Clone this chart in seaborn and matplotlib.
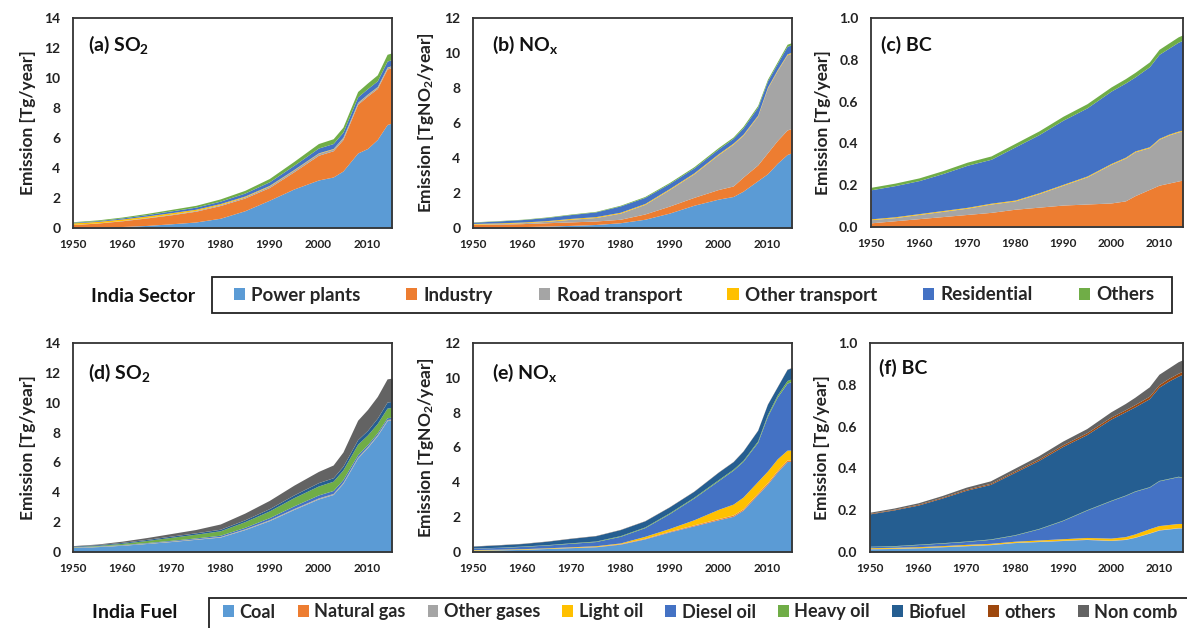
import numpy as np
import pandas as pd
import matplotlib
matplotlib.use("Agg")
import matplotlib.pyplot as plt
import seaborn as sns
from matplotlib.patches import Rectangle, Patch
from matplotlib.ticker import MultipleLocator, FormatStrFormatter

# ---------------- data ----------------
years = [1950, 1955, 1960, 1965, 1970, 1975, 1980, 1985, 1990, 1995,
         2000, 2003, 2005, 2008, 2010, 2012, 2014, 2015]

sector_names = ["Power plants", "Industry", "Road transport",
                "Other transport", "Residential", "Others"]
fuel_names = ["Coal", "Natural gas", "Other gases", "Light oil", "Diesel oil",
              "Heavy oil", "Biofuel", "others", "Non comb"]

# (a) SO2 by sector
so2_power = [0.03, 0.06, 0.10, 0.17, 0.28, 0.40, 0.65, 1.15, 1.85, 2.60, 3.20, 3.40, 3.80, 5.00, 5.30, 5.90, 6.90, 7.00]
so2_industry = [0.20, 0.27, 0.38, 0.50, 0.60, 0.72, 0.85, 0.85, 0.85, 1.15, 1.65, 1.75, 2.10, 3.25, 3.50, 3.40, 3.70, 3.70]
so2_road = [0.01, 0.01, 0.02, 0.03, 0.04, 0.05, 0.06, 0.08, 0.10, 0.12, 0.13, 0.12, 0.12, 0.10, 0.10, 0.10, 0.10, 0.10]
so2_othtr = [0.10, 0.10, 0.10, 0.10, 0.10, 0.08, 0.07, 0.05, 0.04, 0.03, 0.03, 0.03, 0.03, 0.03, 0.03, 0.03, 0.03, 0.03]
so2_resid = [0.04, 0.05, 0.07, 0.09, 0.12, 0.14, 0.16, 0.20, 0.24, 0.28, 0.32, 0.33, 0.34, 0.36, 0.36, 0.38, 0.40, 0.40]
so2_others = [0.04, 0.05, 0.06, 0.08, 0.10, 0.12, 0.15, 0.18, 0.22, 0.26, 0.30, 0.32, 0.33, 0.36, 0.38, 0.40, 0.45, 0.45]

# (b) NOx by sector
nox_power = [0.05, 0.06, 0.08, 0.11, 0.15, 0.20, 0.30, 0.50, 0.85, 1.30, 1.65, 1.80, 2.10, 2.70, 3.10, 3.70, 4.20, 4.30]
nox_industry = [0.15, 0.16, 0.17, 0.19, 0.20, 0.20, 0.20, 0.30, 0.40, 0.45, 0.55, 0.60, 0.80, 0.90, 1.20, 1.30, 1.40, 1.40]
nox_road = [0.02, 0.03, 0.05, 0.08, 0.15, 0.20, 0.35, 0.55, 0.95, 1.35, 2.00, 2.40, 2.40, 2.80, 3.70, 4.00, 4.30, 4.30]
nox_othtr = [0.04, 0.04, 0.04, 0.04, 0.05, 0.05, 0.05, 0.05, 0.05, 0.05, 0.05, 0.05, 0.05, 0.05, 0.05, 0.05, 0.05, 0.05]
nox_resid = [0.07, 0.11, 0.14, 0.18, 0.22, 0.27, 0.36, 0.35, 0.29, 0.28, 0.27, 0.27, 0.36, 0.45, 0.35, 0.35, 0.43, 0.43]
nox_others = [0.02, 0.02, 0.02, 0.03, 0.03, 0.03, 0.04, 0.05, 0.06, 0.07, 0.08, 0.08, 0.09, 0.10, 0.10, 0.10, 0.12, 0.12]

# (c) BC by sector
bc_power = [0.002, 0.002, 0.002, 0.002, 0.003, 0.003, 0.003, 0.004, 0.004, 0.005, 0.005, 0.005, 0.005, 0.006, 0.006, 0.006, 0.006, 0.006]
bc_industry = [0.018, 0.028, 0.038, 0.048, 0.057, 0.067, 0.082, 0.091, 0.101, 0.105, 0.110, 0.120, 0.145, 0.174, 0.194, 0.204, 0.214, 0.219]
bc_road = [0.015, 0.015, 0.020, 0.025, 0.030, 0.040, 0.040, 0.065, 0.095, 0.130, 0.185, 0.205, 0.210, 0.200, 0.220, 0.230, 0.235, 0.235]
bc_othtr = [0.004] * 18
bc_resid = [0.139, 0.149, 0.158, 0.177, 0.201, 0.210, 0.254, 0.278, 0.307, 0.326, 0.346, 0.355, 0.354, 0.383, 0.402, 0.411, 0.425, 0.430]
bc_others = [0.012, 0.012, 0.013, 0.014, 0.015, 0.016, 0.017, 0.018, 0.019, 0.020, 0.020, 0.021, 0.022, 0.023, 0.024, 0.025, 0.026, 0.026]

# (d) SO2 by fuel
so2f_coal = [0.30, 0.36, 0.45, 0.57, 0.70, 0.85, 1.00, 1.50, 2.10, 2.85, 3.55, 3.85, 4.60, 6.30, 7.00, 7.80, 8.80, 8.85]
so2f_gas = [0.002] * 18
so2f_othgas = [0.01, 0.01, 0.01, 0.01, 0.02, 0.02, 0.03, 0.04, 0.05, 0.05, 0.06, 0.06, 0.06, 0.06, 0.06, 0.06, 0.06, 0.06]
so2f_light = [0.01] * 18
so2f_diesel = [0.02, 0.02, 0.03, 0.04, 0.05, 0.06, 0.08, 0.10, 0.14, 0.18, 0.20, 0.20, 0.18, 0.15, 0.12, 0.12, 0.12, 0.12]
so2f_heavy = [0.02, 0.04, 0.08, 0.14, 0.20, 0.25, 0.30, 0.38, 0.45, 0.55, 0.60, 0.62, 0.65, 0.70, 0.65, 0.62, 0.65, 0.65]
so2f_bio = [0.04, 0.05, 0.06, 0.07, 0.08, 0.09, 0.10, 0.12, 0.15, 0.18, 0.22, 0.23, 0.24, 0.30, 0.30, 0.35, 0.40, 0.40]
so2f_others = [0.005] * 18
so2f_noncomb = [0.02, 0.04, 0.08, 0.12, 0.17, 0.22, 0.35, 0.45, 0.55, 0.65, 0.75, 0.85, 0.95, 1.30, 1.40, 1.45, 1.55, 1.55]

# (e) NOx by fuel
noxf_coal = [0.10, 0.12, 0.15, 0.20, 0.25, 0.30, 0.45, 0.75, 1.15, 1.50, 1.85, 2.05, 2.40, 3.30, 3.90, 4.60, 5.20, 5.20]
noxf_gas = [0.00, 0.00, 0.00, 0.00, 0.01, 0.01, 0.02, 0.03, 0.04, 0.05, 0.06, 0.07, 0.07, 0.08, 0.08, 0.08, 0.08, 0.08]
noxf_othgas = [0.01] * 18
noxf_light = [0.03, 0.03, 0.03, 0.03, 0.03, 0.04, 0.04, 0.11, 0.15, 0.29, 0.53, 0.62, 0.67, 0.66, 0.66, 0.66, 0.56, 0.56]
noxf_diesel = [0.08, 0.10, 0.13, 0.16, 0.20, 0.24, 0.38, 0.50, 0.85, 1.25, 1.65, 1.95, 2.05, 2.25, 3.15, 3.55, 3.85, 3.95]
noxf_heavy = [0.01, 0.01, 0.02, 0.02, 0.03, 0.03, 0.04, 0.04, 0.05, 0.05, 0.06, 0.06, 0.06, 0.08, 0.10, 0.12, 0.15, 0.15]
noxf_bio = [0.105, 0.135, 0.145, 0.195, 0.255, 0.305, 0.345, 0.345, 0.335, 0.335, 0.425, 0.425, 0.525, 0.605, 0.585, 0.465, 0.635, 0.635]
noxf_others = [0.005] * 18
noxf_noncomb = [0.01] * 18

# (f) BC by fuel
bcf_coal = [0.015, 0.017, 0.020, 0.025, 0.030, 0.035, 0.045, 0.050, 0.055, 0.060, 0.055, 0.060, 0.070, 0.090, 0.105, 0.110, 0.115, 0.115]
bcf_gas = [0.0005] * 18
bcf_othgas = [0.001] * 18
bcf_light = [0.004, 0.004, 0.004, 0.004, 0.005, 0.005, 0.005, 0.006, 0.007, 0.008, 0.010, 0.012, 0.015, 0.020, 0.020, 0.020, 0.020, 0.020]
bcf_diesel = [0.005, 0.006, 0.010, 0.012, 0.014, 0.019, 0.029, 0.053, 0.087, 0.131, 0.179, 0.197, 0.204, 0.199, 0.214, 0.219, 0.224, 0.219]
bcf_heavy = [0.002] * 18
bcf_bio = [0.155, 0.171, 0.187, 0.214, 0.243, 0.261, 0.298, 0.325, 0.352, 0.359, 0.388, 0.398, 0.402, 0.421, 0.446, 0.465, 0.479, 0.494]
bcf_others = [0.003, 0.003, 0.004, 0.004, 0.005, 0.005, 0.006, 0.007, 0.008, 0.009, 0.010, 0.010, 0.011, 0.012, 0.012, 0.013, 0.014, 0.014]
bcf_noncomb = [0.005, 0.006, 0.007, 0.008, 0.010, 0.012, 0.014, 0.016, 0.018, 0.020, 0.025, 0.030, 0.035, 0.045, 0.050, 0.050, 0.055, 0.055]

sector_colors = ["#5B9BD5", "#ED7D31", "#A5A5A5", "#FFC000", "#4472C4", "#70AD47"]
fuel_colors = ["#5B9BD5", "#ED7D31", "#A5A5A5", "#FFC000", "#4472C4", "#70AD47",
               "#255E91", "#9E480E", "#636363"]

# ---------------- style ----------------
sns.set_theme(style="white")
plt.rcParams['font.family'] = ['Lato', 'DejaVu Sans']
plt.rcParams['mathtext.fontset'] = 'custom'
plt.rcParams['mathtext.rm'] = 'Lato:bold'
plt.rcParams['mathtext.bf'] = 'Lato:bold'
plt.rcParams['mathtext.it'] = 'Lato:bold'

sec_pal = sns.color_palette(sector_colors)
fuel_pal = sns.color_palette(fuel_colors)

W, H = 1187, 628
fig = plt.figure(figsize=(W / 100, H / 100), dpi=100)


def px_axes(l, t, r, b):
    return fig.add_axes([l / W, 1 - b / H, (r - l) / W, (b - t) / H])


panels = [
    dict(rect=(73, 18, 392, 228), names=sector_names, pal=sec_pal,
         data=[so2_power, so2_industry, so2_road, so2_othtr, so2_resid, so2_others],
         title=r"(a) SO$_\mathbf{2}$", ylim=14, ystep=2, ylabel="Emission [Tg/year]", tx=0.047, ty=0.87),
    dict(rect=(473, 18, 792, 228), names=sector_names, pal=sec_pal,
         data=[nox_power, nox_industry, nox_road, nox_othtr, nox_resid, nox_others],
         title=r"(b) NO$_\mathbf{x}$", ylim=12, ystep=2, ylabel=r"Emission [TgNO$_\mathbf{2}$/year]", tx=0.06, ty=0.87),
    dict(rect=(871, 18, 1183, 227), names=sector_names, pal=sec_pal,
         data=[bc_power, bc_industry, bc_road, bc_othtr, bc_resid, bc_others],
         title="(c) BC", ylim=1.0, ystep=0.2, ylabel="Emission [Tg/year]", tx=0.032, ty=0.87),
    dict(rect=(73, 343, 392, 552), names=fuel_names, pal=fuel_pal,
         data=[so2f_coal, so2f_gas, so2f_othgas, so2f_light, so2f_diesel, so2f_heavy, so2f_bio, so2f_others, so2f_noncomb],
         title=r"(d) SO$_\mathbf{2}$", ylim=14, ystep=2, ylabel="Emission [Tg/year]", tx=0.047, ty=0.857),
    dict(rect=(473, 343, 792, 552), names=fuel_names, pal=fuel_pal,
         data=[noxf_coal, noxf_gas, noxf_othgas, noxf_light, noxf_diesel, noxf_heavy, noxf_bio, noxf_others, noxf_noncomb],
         title=r"(e) NO$_\mathbf{x}$", ylim=12, ystep=2, ylabel=r"Emission [TgNO$_\mathbf{2}$/year]", tx=0.06, ty=0.857),
    dict(rect=(870, 343, 1183, 552), names=fuel_names, pal=fuel_pal,
         data=[bcf_coal, bcf_gas, bcf_othgas, bcf_light, bcf_diesel, bcf_heavy, bcf_bio, bcf_others, bcf_noncomb],
         title="(f) BC", ylim=1.0, ystep=0.2, ylabel="Emission [Tg/year]", tx=0.03, ty=0.88),
]

for p in panels:
    ax = px_axes(*p["rect"])
    df = pd.DataFrame(dict(zip(p["names"], p["data"])), index=years)
    ax.stackplot(df.index, df.T.values, colors=p["pal"], linewidth=0)
    ax.set_xlim(1950, 2015)
    ax.set_ylim(0, p["ylim"])
    ax.xaxis.set_major_locator(MultipleLocator(10))
    ax.xaxis.set_minor_locator(MultipleLocator(5))
    ax.yaxis.set_major_locator(MultipleLocator(p["ystep"]))
    if p["ylim"] <= 1.0:
        ax.yaxis.set_major_formatter(FormatStrFormatter("%.1f"))
    else:
        ax.yaxis.set_major_formatter(FormatStrFormatter("%d"))
    ax.tick_params(axis="x", which="both", direction="in", length=4, width=1.1,
                   colors="#333333", labelsize=8.5, pad=8, labelcolor="#222222")
    ax.tick_params(axis="y", which="major", direction="out", length=3, width=1.1,
                   colors="#333333", labelsize=10, pad=6, labelcolor="#222222")
    for lab in ax.get_xticklabels() + ax.get_yticklabels():
        lab.set_fontweight("bold")
    for s in ax.spines.values():
        s.set_color("#333333")
        s.set_linewidth(1.3)
    ax.set_ylabel(p["ylabel"], fontsize=12.5, fontweight="bold", color="#222222", labelpad=6)
    ax.text(p["tx"], p["ty"], p["title"], transform=ax.transAxes, fontsize=14,
            fontweight="bold", va="center", ha="left", color="#111111")

# ---------------- legends ----------------
# top legend (sector)
fig.patches.append(Rectangle((212 / W, 1 - 313 / H), (1172 - 212) / W, 36 / H,
                             transform=fig.transFigure, fill=False,
                             edgecolor="#222222", linewidth=1.3))
fig.text(143 / W, 1 - 296 / H, "India Sector", fontsize=14, fontweight="bold",
         ha="center", va="center", color="#111111")
h_sec = [Patch(facecolor=c, edgecolor="none") for c in sec_pal]
fig.legend(h_sec, sector_names, loc="center", ncol=6, mode="expand",
           bbox_to_anchor=(226 / W, 1 - 313 / H, (1162 - 226) / W, 36 / H),
           frameon=False, handlelength=0.6, handleheight=0.6, handletextpad=0.35,
           prop=dict(size=13.5, weight="bold"), borderaxespad=0)

# bottom legend (fuel)
fig.patches.append(Rectangle((209 / W, -0.1), 1.2, (628 - 598) / H + 0.1,
                             transform=fig.transFigure, fill=False,
                             edgecolor="#222222", linewidth=1.3))
fig.text(135 / W, 1 - 612 / H, "India Fuel", fontsize=14, fontweight="bold",
         ha="center", va="center", color="#111111")
h_fuel = [Patch(facecolor=c, edgecolor="none") for c in fuel_pal]
fig.legend(h_fuel, fuel_names, loc="center", ncol=9, mode="expand",
           bbox_to_anchor=(216 / W, 1 - 626 / H, (1185 - 216) / W, 28 / H),
           frameon=False, handlelength=0.6, handleheight=0.6, handletextpad=0.3,
           prop=dict(size=13, weight="bold"), borderaxespad=0)

fig.savefig("out.png", dpi=100)
